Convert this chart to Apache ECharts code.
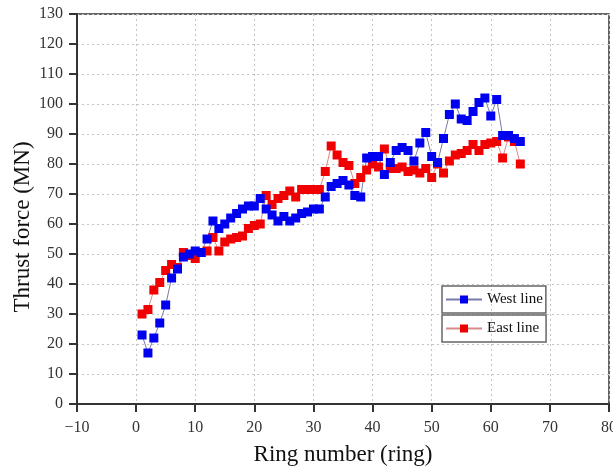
<!DOCTYPE html>
<html>
<head>
<meta charset="utf-8">
<script src="https://cdn.jsdelivr.net/npm/echarts@6/dist/echarts.min.js"></script>
<style>
html,body{margin:0;padding:0;background:#fff;}
#chart{width:613px;height:469px;}
</style>
</head>
<body>
<div id="chart"></div>
<script>
// Ring numbers
const ringsWest = [];
for (let i = 1; i <= 65; i++) ringsWest.push(i);
const ringsEast = ringsWest.slice();

// Thrust force (MN)
const westLine = [23,17,22,27,33,42,45,49,50,51,
  50.5,55,61,58.5,60,62,63.5,65,66,66,
  68.5,65,63,61,62.5,61,62,63.5,64,65,
  65,69,72.5,73.5,74.5,73,69.5,69,82,82.5,
  82.5,76.5,80.5,84.5,85.5,84.5,81,87,90.5,82.5,
  80.5,88.5,96.5,100,95,94.5,97.5,100.5,102,96,
  101.5,89.5,89.5,88.5,87.5];
const eastLine = [30,31.5,38,40.5,44.5,46.5,45.5,50.5,49.5,48.5,
  50.5,51,55.5,51,54,55,55.5,56,58.5,59.5,
  60,69.5,66.5,68.5,69.5,71,69,71.5,71.5,71.5,
  71.5,77.5,86,83,80.5,79.5,73.5,75.5,78,80,
  79,85,78.5,78.5,79,77.5,78,77,78.5,75.5,
  80,77,81,83,83.5,84.5,86.5,84.5,86.5,87,
  87.5,82,89,87.5,80];

const xTicks = [-10,0,10,20,30,40,50,60,70,80];
const yTicks = [0,10,20,30,40,50,60,70,80,90,100,110,120,130];
const seriesNames = ['West line','East line'];

const FONT = 'Liberation Serif';
const westData = ringsWest.map((r,i)=>[r, westLine[i]]);
const eastData = ringsEast.map((r,i)=>[r, eastLine[i]]);

const chart = echarts.init(document.getElementById('chart'), null, {renderer:'canvas'});
const legendBase = {
  orient:'horizontal',
  left:442,
  itemWidth:36, itemHeight:10,
  itemGap:0,
  borderColor:'#666', borderWidth:1.5,
  textStyle:{fontFamily:FONT, fontSize:15, color:'#111'},
  selectedMode:false
};
chart.setOption({
  animation:false,
  backgroundColor:'#fff',
  grid:{left:77, right:4, top:14, bottom:65, containLabel:false,
    outerBoundsMode:'none',
    show:true, borderColor:'#333', borderWidth:1.5, backgroundColor:'transparent'},
  legend:[
    Object.assign({}, legendBase, {top:286, padding:[6,3,6,3], data:[seriesNames[0]]}),
    Object.assign({}, legendBase, {top:315, padding:[6,7,6,3], data:[seriesNames[1]]})
  ],
  xAxis:{
    type:'value', min:xTicks[0], max:xTicks[xTicks.length-1], interval:10,
    name:'Ring number (ring)', nameLocation:'middle', nameGap:39,
    nameTextStyle:{fontFamily:FONT, fontSize:23, color:'#111'},
    axisLine:{show:true, onZero:false, lineStyle:{color:'#333', width:2}},
    axisTick:{show:true, inside:false, length:8, lineStyle:{color:'#333', width:2}},
    axisLabel:{fontFamily:FONT, fontSize:16, color:'#333', margin:16,
      formatter:v=>String(v).replace('-','\u2212')},
    splitLine:{show:true, lineStyle:{color:'#c4c4c4', type:[2,3], width:1}}
  },
  yAxis:{
    type:'value', min:yTicks[0], max:yTicks[yTicks.length-1], interval:10,
    name:'Thrust force (MN)', nameLocation:'middle', nameGap:43,
    nameMoveOverlap:false,
    nameTextStyle:{fontFamily:FONT, fontSize:23, color:'#111', padding:[0,36,0,0]},
    axisLine:{show:true, onZero:false, lineStyle:{color:'#333', width:2}},
    axisTick:{show:true, inside:false, length:8, lineStyle:{color:'#333', width:2}},
    axisLabel:{fontFamily:FONT, fontSize:16, color:'#333', margin:14},
    splitLine:{show:true, lineStyle:{color:'#c4c4c4', type:[2,3], width:1}}
  },
  series:[
    {
      name:seriesNames[1], type:'line', data:eastData,
      symbol:'rect', symbolSize:9, showSymbol:true,
      itemStyle:{color:'#f00000'},
      lineStyle:{color:'#d88a8a', width:1}
    },
    {
      name:seriesNames[0], type:'line', data:westData,
      symbol:'rect', symbolSize:9, showSymbol:true,
      itemStyle:{color:'#0000f0'},
      lineStyle:{color:'#7a7aa8', width:1}
    }
  ]
});
</script>
</body>
</html>
